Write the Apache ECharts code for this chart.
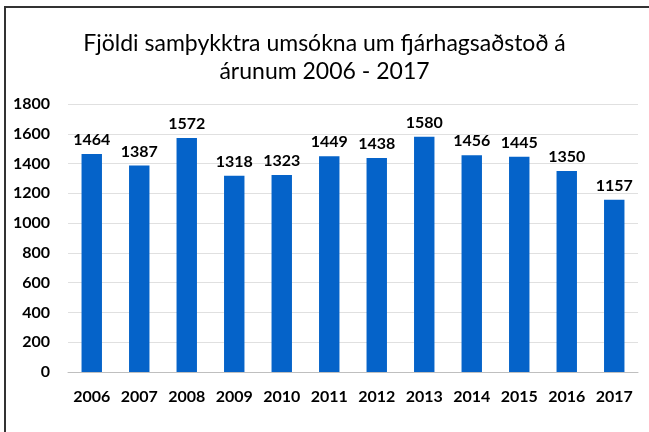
<!DOCTYPE html>
<html><head><meta charset="utf-8">
<script src="https://cdn.jsdelivr.net/npm/echarts@6/dist/echarts.min.js"></script>
<style>
html,body{margin:0;padding:0;background:#fff;overflow:hidden}
#frame{position:absolute;left:4px;top:6px;width:700px;height:500px;border-left:2px solid #333;border-top:2px solid #333}
#c{position:absolute;left:0;top:0;width:649px;height:432px}
</style></head><body>
<div id="frame"></div>
<div id="c"></div>
<script>
const categories = ['2006','2007','2008','2009','2010','2011','2012','2013','2014','2015','2016','2017'];
const values = [1464,1387,1572,1318,1323,1449,1438,1580,1456,1445,1350,1157];
const titleLines = ['Fjöldi samþykktra umsókna um fjárhagsaðstoð á','árunum 2006 - 2017'];
const chart = echarts.init(document.getElementById('c'));
chart.setOption({
  backgroundColor: 'transparent',
  animation: false,
  title: {
    text: titleLines.join('\n'),
    left: 'center', top: 25,
    textStyle: {fontFamily: 'Lato', fontSize: 23, fontWeight: 'normal', color: '#000', lineHeight: 28}
  },
  grid: {left: 68, right: 11, top: 104, bottom: 60},
  xAxis: {
    type: 'category', data: categories,
    axisLine: {lineStyle: {color: '#bfbfbf'}},
    axisTick: {show: false},
    axisLabel: {interval: 0, fontFamily: 'Lato', fontWeight: 'bold', fontSize: 16, color: '#000', margin: 17}
  },
  yAxis: {
    type: 'value', min: 0, max: 1800, interval: 200,
    axisLine: {show: false}, axisTick: {show: false},
    splitLine: {lineStyle: {color: '#e0e0e0'}},
    axisLabel: {fontFamily: 'Lato', fontWeight: 'bold', fontSize: 16, color: '#000', margin: 18, formatter: v => String(v)}
  },
  series: [{
    type: 'bar', data: values, barWidth: '43%',
    itemStyle: {color: '#0563C9'},
    label: {show: true, position: 'top', distance: 6, fontFamily: 'Lato', fontWeight: 'bold', fontSize: 16, color: '#000'}
  }]
});
</script></body></html>
